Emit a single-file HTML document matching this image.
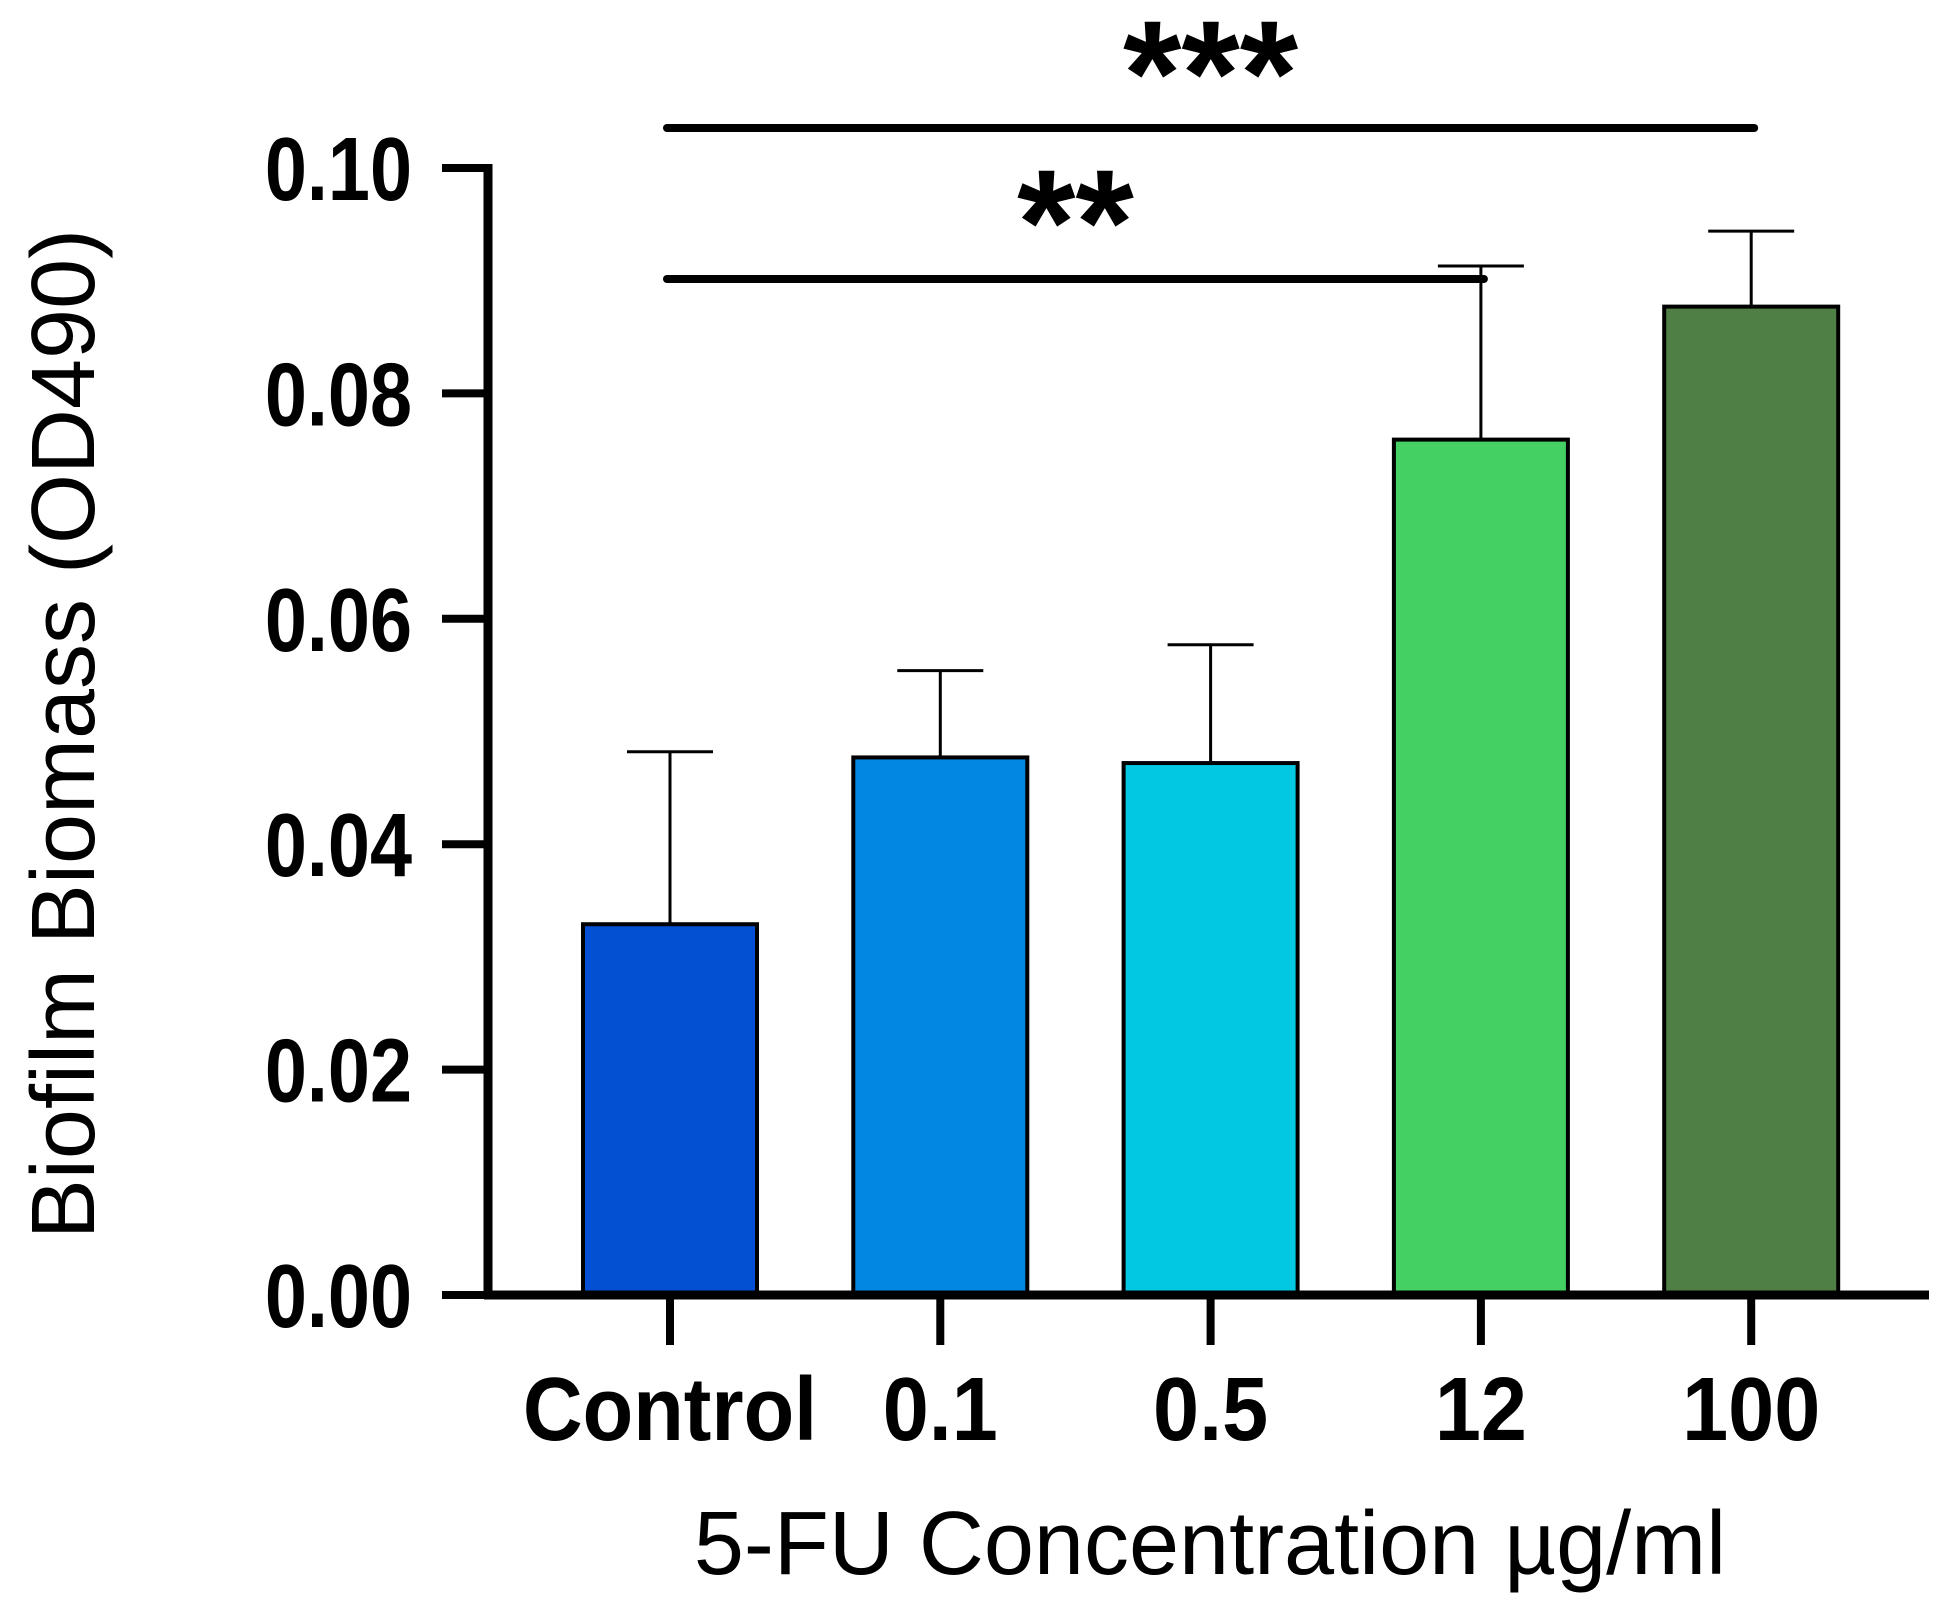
<!DOCTYPE html>
<html><head><meta charset="utf-8"><style>
html,body{margin:0;padding:0;background:#fff;}
svg{display:block;font-family:"Liberation Sans",Arial,sans-serif;}
</style></head><body>
<svg id="chart" width="1951" height="1618" viewBox="0 0 1951 1618" xmlns="http://www.w3.org/2000/svg">
<g id="bars"></g>
<g id="axes"></g>
<g id="sig"></g>
<text transform="translate(94,734) rotate(-90)" text-anchor="middle" font-size="90" fill="#000">Biofilm Biomass (OD490)</text>
<text x="1210" y="1574" text-anchor="middle" font-size="90" fill="#000">5-FU Concentration µg/ml</text>
</svg>
<script>
const categories = ["Control","0.1","0.5","12","100"];
const means = [0.0329,0.0477,0.0472,0.0759,0.0877];
const errors = [0.0153,0.0077,0.0105,0.0154,0.0067];
const colors = ["#0350d2","#0388e2","#03c8e2","#44d062","#4f7f45"];
const yTicks = [0,0.02,0.04,0.06,0.08,0.10];
const yTickLabels = ["0.00","0.02","0.04","0.06","0.08","0.10"];
const sigBrackets = [{from:0,to:4,label:"***",level:0},{from:0,to:3,label:"**",level:1}];

const NS="http://www.w3.org/2000/svg";
const X0=488, Y0=1295, YTOP=168, YMAX=0.10, XEND=1929;
const yScale=v=>Y0-(v/YMAX)*(Y0-YTOP);
const xCenter=i=>670+i*270.3;
const BW=174;
function mk(tag,attrs,parent){const e=document.createElementNS(NS,tag);for(const k in attrs)e.setAttribute(k,attrs[k]);parent.appendChild(e);return e;}
const bars=document.getElementById('bars'),axes=document.getElementById('axes'),sig=document.getElementById('sig');
categories.forEach((c,i)=>{
  const cx=xCenter(i),top=yScale(means[i]),et=yScale(means[i]+errors[i]);
  const l=mk('line',{x1:cx,x2:cx,y1:top,y2:et,stroke:'#000','stroke-width':3},bars);
  
  
  const cap=mk('line',{x1:cx-43,x2:cx+43,y1:et,y2:et,stroke:'#000','stroke-width':3},bars);
  
  
  const r=mk('rect',{x:cx-BW/2,y:top,width:BW,height:Y0-top,fill:colors[i],stroke:'#000','stroke-width':4},bars);
  
  
  const t=mk('line',{x1:cx,x2:cx,y1:Y0,y2:Y0+50,stroke:'#000','stroke-width':8},axes);
  
  
  const lb=mk('text',{transform:'translate('+cx+',1440) scale(0.92,1)','text-anchor':'middle','font-size':90,'font-weight':'bold',fill:'#000'},axes);
  lb.textContent=c;
  
  
});
const ya=mk('line',{x1:X0,x2:X0,y1:YTOP-4,y2:Y0+4,stroke:'#000','stroke-width':9},axes);


const xa=mk('line',{x1:X0-4,x2:XEND,y1:Y0,y2:Y0,stroke:'#000','stroke-width':9},axes);


yTicks.forEach((v,i)=>{
  const y=yScale(v);
  const t=mk('line',{x1:X0-46,x2:X0,y1:y,y2:y,stroke:'#000','stroke-width':8},axes);
  
  
  const lb=mk('text',{transform:'translate(412,'+(y+32)+') scale(0.84,1)','text-anchor':'end','font-size':90,'font-weight':'bold',fill:'#000'},axes);
  lb.textContent=yTickLabels[i];
  
  
});
const sigY=[128,279], sigTY=[125,274];
sigBrackets.forEach(b=>{
  const x1=xCenter(b.from)-3,x2=xCenter(b.to)+3,y=sigY[b.level];
  const l=mk('line',{x1:x1,x2:x2,y1:y,y2:y,stroke:'#000','stroke-width':8,'stroke-linecap':'round'},sig);
  
  
  const t=mk('text',{x:(x1+x2)/2,y:sigTY[b.level],'text-anchor':'middle','font-size':150,'font-weight':'bold',fill:'#000'},sig);
  t.textContent=b.label;
  
  
});
</script>
</body></html>
